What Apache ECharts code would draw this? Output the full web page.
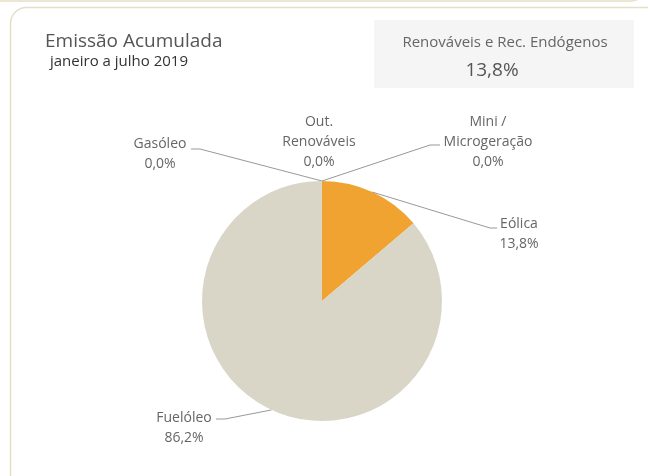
<!DOCTYPE html>
<html>
<head>
<meta charset="utf-8">
<script src="https://cdn.jsdelivr.net/npm/echarts@6/dist/echarts.min.js"></script>
<style>
html,body{margin:0;padding:0;background:#fff;}
#c{width:648px;height:476px;}
</style>
</head>
<body>
<div id="c"></div>
<script>
// Data
var categories = ['Eólica', 'Fuelóleo', 'Gasóleo', 'Out. Renováveis', 'Mini / Microgeração'];
var labelNames = ['Eólica', 'Fuelóleo', 'Gasóleo', 'Out.\nRenováveis', 'Mini /\nMicrogeração'];
var values = [13.8, 86.2, 0.0, 0.0, 0.0];
var colors = ['#F0A330', '#D9D6C8', '#BDB9A6', '#8FB06B', '#6E9CC4'];
var titleText = 'Emissão Acumulada';
var subtitleText = 'janeiro a julho 2019';
var kpiLabel = 'Renováveis e Rec. Endógenos';
var kpiValue = '13,8%';

function fmt(v){ return v.toFixed(1).replace('.', ',') + '%'; }

// label placement (layout only)
var labelPlace = [
  {x: 519, y: 234, lineMid: [490, 228], lineEnd: [497, 228]},
  {x: 184, y: 428, lineMid: [225, 419], lineEnd: [216, 419]},
  {x: 160, y: 154, lineMid: [200, 149], lineEnd: [191, 149]},
  {x: 319, y: 142, lineMid: null, lineEnd: null},
  {x: 488, y: 142, lineMid: [430, 145], lineEnd: [440, 145]}
];

var seriesData = categories.map(function(n, i){
  return {name: n, value: values[i], itemStyle: {color: colors[i]}};
});

var chart = echarts.init(document.getElementById('c'), null, {renderer: 'canvas'});
var FONT = '"Open Sans", "Noto Sans", sans-serif';
chart.setOption({
  animation: false,
  textStyle: {fontFamily: FONT},
  graphic: [
    {type: 'rect', shape: {x: -20, y: -30, width: 665, height: 31, r: 14}, style: {fill: '#fff', stroke: '#E3DFC8', lineWidth: 1.5}, z: 0},
    {type: 'rect', shape: {x: 10.5, y: 7.5, width: 660, height: 500, r: 16}, style: {fill: '#fff', stroke: '#E3DFC8', lineWidth: 1.5}, z: 0},
    {type: 'rect', shape: {x: 374, y: 20, width: 260, height: 68}, style: {fill: '#F5F5F5'}, z: 1},
    {type: 'text', x: 505, y: 43, style: {text: kpiLabel, fill: '#666', font: '15px ' + FONT, textAlign: 'center', textVerticalAlign: 'middle'}, z: 2},
    {type: 'text', x: 492, y: 71, style: {text: kpiValue, fill: '#555', font: '19px ' + FONT, textAlign: 'center', textVerticalAlign: 'middle'}, z: 2},
    {type: 'text', x: 45, y: 42, style: {text: titleText, fill: '#555', font: '19px ' + FONT, textVerticalAlign: 'middle'}, z: 2},
    {type: 'text', x: 50, y: 62, style: {text: subtitleText, fill: '#333', font: '15px ' + FONT, textVerticalAlign: 'middle'}, z: 2}
  ],
  series: [{
    type: 'pie',
    center: [322, 301],
    radius: [0, 120],
    startAngle: 90,
    clockwise: true,
    avoidLabelOverlap: false,
    minAngle: 0,
    stillShowZeroSum: true,
    data: seriesData,
    emphasis: {disabled: true},
    label: {
      show: true,
      position: 'outside',
      formatter: function(p){ return labelNames[p.dataIndex] + '\n' + fmt(p.value); },
      color: '#666',
      fontSize: 14,
      lineHeight: 20,
      fontFamily: FONT,
      align: 'center'
    },
    labelLine: {show: true, length: 20, length2: 10, lineStyle: {color: '#999', width: 1}},
    labelLayout: function(params){
      var lp = labelPlace[params.dataIndex];
      var res = {x: lp.x, y: lp.y, align: 'center', verticalAlign: 'middle'};
      var p0 = params.labelLinePoints ? params.labelLinePoints[0] : [322, 181];
      if (lp.lineMid) {
        res.labelLinePoints = [p0, lp.lineMid, lp.lineEnd];
      } else {
        res.labelLinePoints = [p0, p0];
      }
      return res;
    }
  }]
});
</script>
</body>
</html>
